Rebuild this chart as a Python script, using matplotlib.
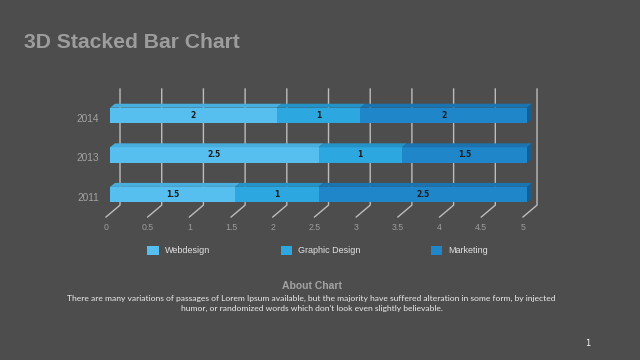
import matplotlib.pyplot as plt
from matplotlib.patches import Polygon, Patch
from matplotlib.transforms import ScaledTranslation

# data
years = ['2011', '2013', '2014']
series = ['Webdesign', 'Graphic Design', 'Marketing']
webdesign = [1.5, 2.5, 2]
graphic_design = [1, 1, 1]
marketing = [2.5, 1.5, 2]
x_ticks = [0, 0.5, 1, 1.5, 2, 2.5, 3, 3.5, 4, 4.5, 5]
x_tick_labels = ['0', '0.5', '1', '1.5', '2', '2.5', '3', '3.5', '4', '4.5', '5']

bg = '#4d4d4d'
front_cols = ['#56bff0', '#2ca7df', '#1f86c9']
top_cols = ['#48aede', '#2494c8', '#1b74b0']
side_col = '#165f94'
grid_col = '#bcbcbc'

# 3d look (data units)
bar_h = 0.39
bar_dx, bar_dy = 0.06, 0.10     # depth of the bars
bar_off = 0.048                 # bars sit a little behind the front plane
back_dx, back_dy = 0.168, 0.30  # back wall offset

fig = plt.figure(figsize=(6.4, 3.6), dpi=100, facecolor=bg)
ax = fig.add_axes([106/640, 1-217/360, 417/640, 128/360])
ax.set_xlim(0, 5)
ax.set_ylim(-0.566, 2.667)
ax.patch.set_visible(False)
for s in ax.spines.values():
    s.set_visible(False)

y0, y1 = ax.get_ylim()
# back wall grid + floor diagonals
for v in x_ticks:
    ax.plot([v, v + back_dx, v + back_dx], [y0, y0 + back_dy, y1],
            color=grid_col, lw=1, clip_on=False, zorder=1)

ypos = list(range(len(years)))
vals = [webdesign, graphic_design, marketing]
left = [0.0] * len(years)
for k, (name, v) in enumerate(zip(series, vals)):
    bars = ax.barh(ypos, v, left=[l + bar_off for l in left], height=bar_h,
                   color=front_cols[k], zorder=3, label=name)
    for b in bars:
        b.set_clip_on(False)
    for i, y in enumerate(ypos):
        x0 = left[i] + bar_off
        x1 = x0 + v[i]
        top = y + bar_h / 2
        ax.add_patch(Polygon([(x0, top), (x1, top), (x1 + bar_dx, top + bar_dy),
                              (x0 + bar_dx, top + bar_dy)],
                             closed=True, color=top_cols[k], zorder=3, lw=0,
                             clip_on=False))
        if k == len(series) - 1:
            bot = y - bar_h / 2
            ax.add_patch(Polygon([(x1, bot), (x1 + bar_dx, bot + bar_dy),
                                  (x1 + bar_dx, top + bar_dy), (x1, top)],
                                 closed=True, color=side_col, zorder=3, lw=0,
                                 clip_on=False))
        ax.text((x0 + x1) / 2, y, f'{v[i]:g}', ha='center', va='center',
                fontsize=5.5, fontweight='bold', color='#1b1b1b', zorder=4)
    left = [l + a for l, a in zip(left, v)]

ax.set_xticks(x_ticks)
ax.set_xticklabels(x_tick_labels, family='Liberation Sans')
ax.set_yticks(ypos)
ax.set_yticklabels(years, family='Liberation Sans')
ax.tick_params(axis='x', length=0, pad=4, labelsize=6.3, labelcolor='#9c9c9c')
ax.tick_params(axis='y', length=0, pad=5, labelsize=7.3, labelcolor='#a3a3a3')
for lab in ax.get_yticklabels():
    lab.set_transform(lab.get_transform() + ScaledTranslation(0, -1.8/72, fig.dpi_scale_trans))

handles = [Patch(facecolor=c, label=n) for c, n in zip(front_cols, series)]
fig.legend(handles=handles, loc='center', bbox_to_anchor=(317.5/640, 1-250.5/360), ncol=3,
           frameon=False, prop={'family': 'Liberation Sans', 'size': 6.5},
           labelcolor='#e2e2e2', handlelength=1.22, handleheight=1.22,
           handletextpad=0.66, columnspacing=7.85)

fig.text(24/640, 1-43/360, '3D Stacked Bar Chart', fontsize=15.2, fontweight='bold',
         color='#9d9d9d', family='Liberation Sans', va='center')
fig.text(312/640, 1-286/360, 'About Chart', fontsize=7.5, fontweight='bold',
         color='#a3a3a3', family='Liberation Sans', ha='center', va='center')
fig.text(311.5/640, 1-303.5/360,
         'There are many variations of passages of Lorem Ipsum available, but the majority have suffered alteration in some form, by injected\n'
         'humor, or randomized words which don\'t look even slightly believable.',
         fontsize=6.1, color='#ececec', family='Lato', ha='center', va='center',
         linespacing=1.55)
fig.text(588/640, 1-343/360, '1', fontsize=6, color='#ffffff', ha='center', va='center')

fig.savefig('out.png', dpi=100, facecolor=bg)
